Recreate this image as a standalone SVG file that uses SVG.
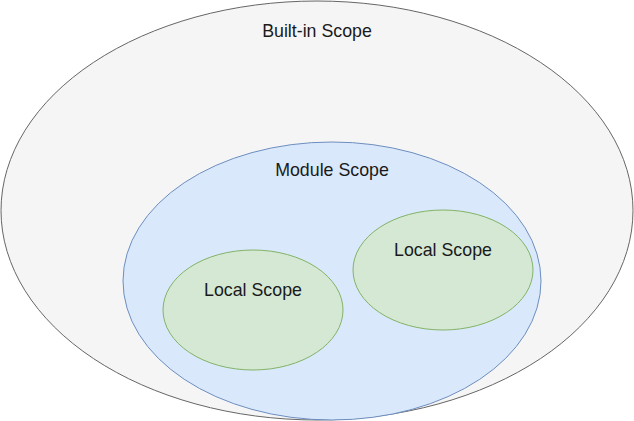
<svg xmlns="http://www.w3.org/2000/svg" width="634" height="421" viewBox="0 0 634 421">
<style>
text{font-family:"Liberation Sans",Arial,sans-serif;font-size:17.8px;fill:#1a1a1a;text-anchor:middle}
.builtin{fill:#f5f5f5;stroke:#666666;stroke-width:1}
.module{fill:#dae8fc;stroke:#6c8ebf;stroke-width:1}
.local{fill:#d5e8d4;stroke:#82b366;stroke-width:1}
</style>
<rect width="634" height="421" fill="#ffffff"/>
<g id="builtin">
<ellipse class="builtin" cx="317" cy="210.5" rx="316" ry="209.5"/>
<text x="317" y="36.5">Built-in Scope</text>
</g>
<g id="module">
<ellipse class="module" cx="332" cy="281" rx="209" ry="139"/>
<text x="332" y="176">Module Scope</text>
</g>
<g id="local-left">
<ellipse class="local" cx="253" cy="310" rx="90" ry="60"/>
<text x="253" y="296">Local Scope</text>
</g>
<g id="local-right">
<ellipse class="local" cx="443" cy="270" rx="90" ry="60"/>
<text x="443" y="256">Local Scope</text>
</g>
<g id="connectors"/>
</svg>
